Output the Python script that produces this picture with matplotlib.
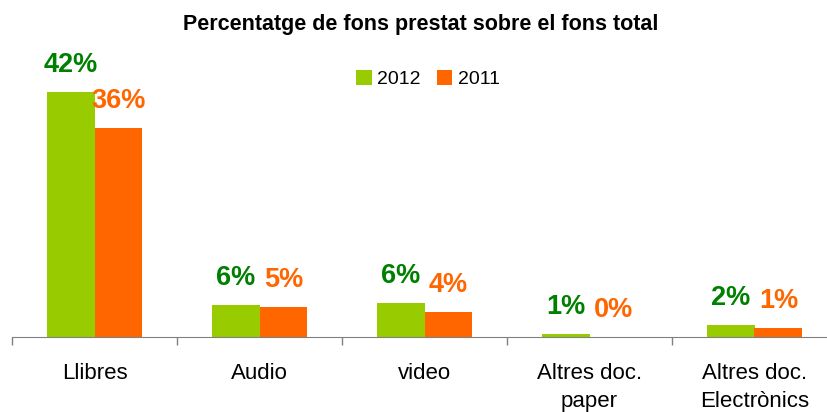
import matplotlib
matplotlib.use("Agg")
import matplotlib.pyplot as plt
import numpy as np

categories = ["Llibres", "Audio", "video", "Altres doc.\npaper", "Altres doc.\nElectrònics"]
series_names = ["2012", "2011"]
values_2012 = [42.0, 5.5, 5.8, 0.5, 2.0]
values_2011 = [35.8, 5.1, 4.2, 0.05, 1.5]
labels_2012 = ["42%", "6%", "6%", "1%", "2%"]
labels_2011 = ["36%", "5%", "4%", "0%", "1%"]

green = "#99CC00"
orange = "#FF6600"
green_text = "#008000"

plt.rcParams['font.family'] = ['Liberation Sans', 'DejaVu Sans']

fig = plt.figure(figsize=(8.27, 4.12), dpi=100)
ax = fig.add_axes([12/827, 1 - 337/412, 825/827, 277/412])

x = np.arange(len(categories))
w = 0.29
b1 = ax.bar(x - w/2, values_2012, w, color=green, label=series_names[0])
b2 = ax.bar(x + w/2, values_2011, w, color=orange, label=series_names[1])

for xi, v, t in zip(x - w/2, values_2012, labels_2012):
    ax.annotate(t, (xi, v), xytext=(0, 14.4), textcoords='offset points',
                ha='center', va='baseline', fontsize=19.5, fontweight='bold', color=green_text)
for xi, v, t in zip(x + w/2, values_2011, labels_2011):
    ax.annotate(t, (xi, v), xytext=(0, 14.4), textcoords='offset points',
                ha='center', va='baseline', fontsize=19.5, fontweight='bold', color=orange)

ax.set_xlim(-0.5, len(categories) - 0.5)
ax.set_ylim(0, 277/5.84)
for s in ['top', 'right', 'left']:
    ax.spines[s].set_visible(False)
ax.spines['bottom'].set_color('#808080')
ax.set_yticks([])
ax.set_xticks(x)
ax.set_xticklabels(categories, fontsize=16, linespacing=1.45)
ax.tick_params(axis='x', which='major', length=0, pad=18.5)
ax.set_xticks(np.arange(-0.5, len(categories)), minor=True)
ax.tick_params(axis='x', which='minor', length=6, color='#808080', width=1)

fig.text(421/827, 1 - 30/412, "Percentatge de fons prestat sobre el fons total",
         ha='center', va='baseline', fontsize=15.5, fontweight='bold')

leg = fig.legend(handles=[b1, b2], loc='center', bbox_to_anchor=(428/827, 1 - 79/412),
                 ncol=2, frameon=False, fontsize=14, handlelength=0.8, handleheight=0.8,
                 handletextpad=0.3, columnspacing=0.8, borderpad=0)

fig.savefig("out.png", dpi=100)
